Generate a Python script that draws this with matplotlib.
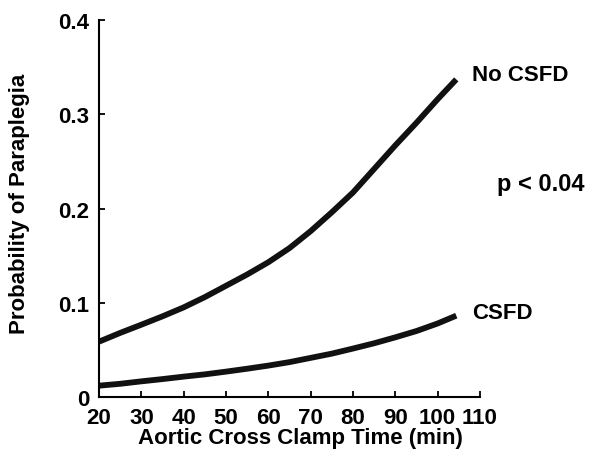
import matplotlib
matplotlib.use("Agg")
import matplotlib.pyplot as plt

plt.rcParams.update({
    "font.family": ["Liberation Sans", "DejaVu Sans"],
    "font.weight": "bold",
    "font.size": 16,
})

# clamp time (min) and probability of paraplegia
clamp_time = [20, 25, 30, 35, 40, 45, 50, 55, 60, 65, 70, 75, 80, 85, 90, 95, 100, 104.4]
no_csfd = [0.0587, 0.068, 0.0767, 0.0856, 0.0951, 0.106, 0.118, 0.130, 0.143, 0.158,
           0.176, 0.196, 0.217, 0.242, 0.267, 0.291, 0.316, 0.337]
csfd = [0.012, 0.014, 0.0166, 0.019, 0.0216, 0.024, 0.0269, 0.030, 0.0333, 0.037,
        0.0415, 0.046, 0.0514, 0.057, 0.0633, 0.070, 0.078, 0.0863]

x_ticks = [20, 30, 40, 50, 60, 70, 80, 90, 100, 110]
y_ticks = [0, 0.1, 0.2, 0.3, 0.4]
y_ticklabels = ["0", "0.1", "0.2", "0.3", "0.4"]

fig = plt.figure(figsize=(5.95, 4.52), dpi=100)
ax = fig.add_axes([0.1664, 0.1195, 0.6403, 0.834])

ax.plot(clamp_time, no_csfd, color="#111111", lw=4.2,
        solid_capstyle="butt", solid_joinstyle="round")
ax.plot(clamp_time, csfd, color="#111111", lw=4.2,
        solid_capstyle="butt", solid_joinstyle="round")

ax.set_xlim(20, 110)
ax.set_ylim(0, 0.4)
ax.set_xticks(x_ticks)
ax.set_yticks(y_ticks)
ax.set_yticklabels(y_ticklabels)
ax.tick_params(direction="in", length=4.5, width=1.3, pad=7, labelsize=16)

for side in ("top", "right"):
    ax.spines[side].set_visible(False)
for side in ("left", "bottom"):
    ax.spines[side].set_linewidth(1.5)

ax.set_xlabel("Aortic Cross Clamp Time (min)", fontsize=16, weight="bold")
ax.set_ylabel("Probability of Paraplegia", fontsize=16, weight="bold")
ax.xaxis.set_label_coords(0.528, -0.08)
ax.yaxis.set_label_coords(-0.18, 0.515)

ax.text(108.1, 0.342, "No CSFD", va="center", ha="left", clip_on=False)
ax.text(114.0, 0.226, "p < 0.04", va="center", ha="left", clip_on=False, fontsize=17)
ax.text(108.1, 0.090, "CSFD", va="center", ha="left", clip_on=False)

fig.savefig("out.png", dpi=100, facecolor="white")
